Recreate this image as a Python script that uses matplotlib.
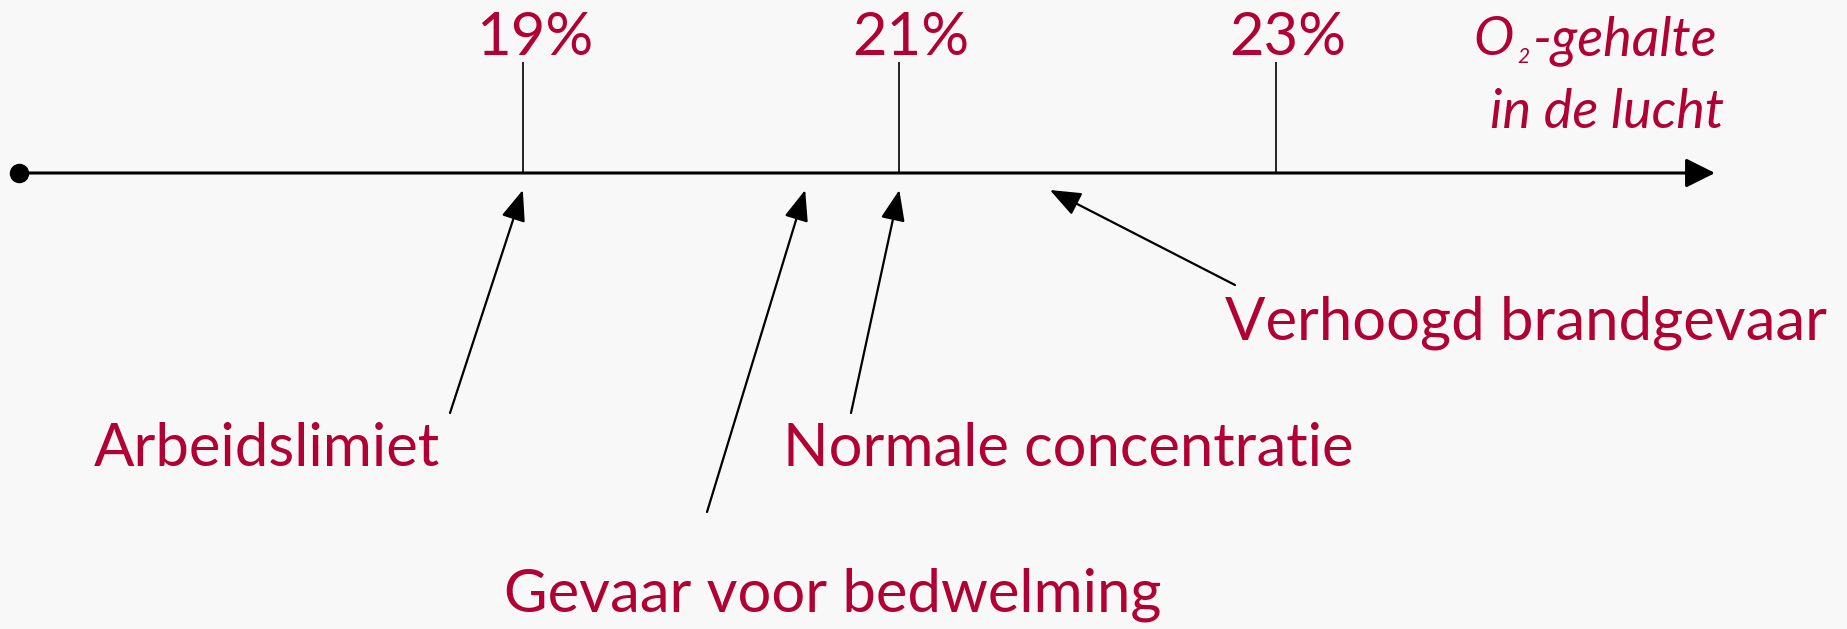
import matplotlib
matplotlib.use('Agg')
import matplotlib.pyplot as plt
import matplotlib.transforms as mtransforms

# O2 levels (%) marked with a tick on the scale
tick_values = [19, 21, 23]
# meaning of the levels and the level (%) each arrow points at
labels = ['Arbeidslimiet', 'Gevaar voor bedwelming', 'Normale concentratie', 'Verhoogd brandgevaar']
levels = [19, 20.5, 21, 21.8]
axis_title = ['O', '2', '-gehalte', 'in de lucht']

W, H = 1847, 629
RED = '#b10034'
BG = '#f8f8f8'
FS = 43      # upright labels
FS_IT = 39   # italic axis title

plt.rcParams['font.family'] = ['Lato', 'DejaVu Sans']

fig = plt.figure(figsize=(W / 100, H / 100), dpi=100, facecolor=BG)

# layout axes, in pixels (y down)
lay = fig.add_axes([0, 0, 1, 1])
lay.set_xlim(0, W)
lay.set_ylim(H, 0)
lay.axis('off')

# data axes: x in % O2, y in pixels
ax = fig.add_axes([0, 0, 1, 1], sharey=lay)
ax.patch.set_visible(False)
ax.axis('off')
px_per_pct = 188.25
x21 = 899.3
ax.set_xlim(21 - x21 / px_per_pct, 21 + (W - x21) / px_per_pct)

# the scale itself: dot, line, arrow head
y0 = 173
lay.annotate('', xy=(1715, y0), xytext=(19, y0),
             arrowprops=dict(arrowstyle='-|>,head_length=18,head_width=9', lw=2.2,
                             color='black', shrinkA=0, shrinkB=0, mutation_scale=1))
lay.plot([19], [y0], 'o', ms=13, color='black')

# ticks and their labels
ax.vlines(tick_values, 62, y0, color='black', lw=1.2)
lab_tr = mtransforms.offset_copy(ax.transData, fig=fig, x=12, y=0, units='dots')
for v in tick_values:
    ax.text(v, 55, f'{v}%', transform=lab_tr, ha='center', va='baseline',
            color=RED, fontsize=FS)

# axis title: O, small subscript 2, -gehalte / in de lucht
rend = fig.canvas.get_renderer()
t = lay.text(1473, 55, axis_title[0], ha='left', va='baseline', color=RED,
             fontsize=FS_IT, fontstyle='italic')
x_end = t.get_window_extent(rend).x1
t = lay.text(x_end + 4, 63, axis_title[1], ha='left', va='baseline', color=RED,
             fontsize=15, fontstyle='italic')
x_end = t.get_window_extent(rend).x1
lay.text(x_end + 3, 55, axis_title[2], ha='left', va='baseline', color=RED,
         fontsize=FS_IT, fontstyle='italic')
lay.text(1490, 128, axis_title[3], ha='left', va='baseline', color=RED,
         fontsize=FS_IT, fontstyle='italic')

# label text position (left, baseline) and arrow tail, in pixels
text_pos = [(94, 466), (504, 612), (783, 466), (1225, 339)]
tails = [(450, 413), (707, 512), (851, 413), (1235, 285)]

for lab, lvl, (tx, ty), tail in zip(labels, levels, text_pos, tails):
    lay.text(tx, ty, lab, ha='left', va='baseline', color=RED, fontsize=FS)
    ax.annotate('', xy=(lvl, 190), xycoords='data',
                xytext=tail, textcoords=lay.transData,
                arrowprops=dict(arrowstyle='-|>,head_length=19,head_width=7.5', lw=1.6,
                                color='black', shrinkA=0, shrinkB=0, mutation_scale=1))

fig.savefig('out.png', dpi=100, facecolor=BG)
